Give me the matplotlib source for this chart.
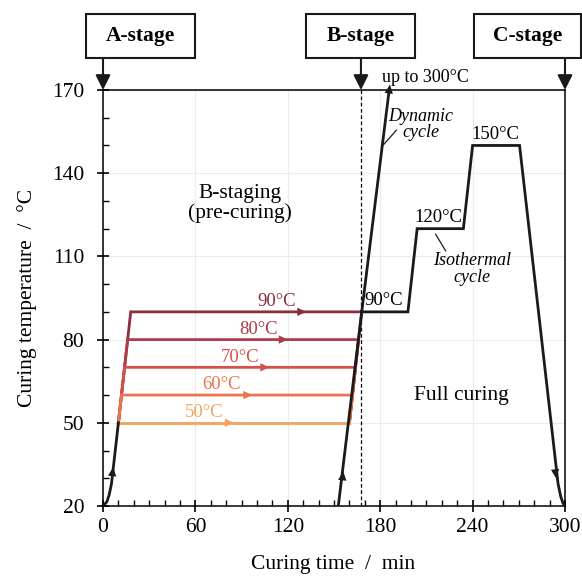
import matplotlib
matplotlib.use("Agg")
import matplotlib.pyplot as plt
import matplotlib.transforms as mtransforms
from matplotlib.patches import Rectangle

plt.rcParams["font.family"] = ["Liberation Serif", "DejaVu Serif"]
plt.rcParams["mathtext.fontset"] = "stix"

# ---- data -------------------------------------------------------------
# B-staging holds (pre-curing)
stage_temps = [90, 80, 70, 60, 50]
stage_labels = ["90°C", "80°C", "70°C", "60°C", "50°C"]
stage_colors = ["#8a2d3d", "#b13b49", "#d4504a", "#e9744f", "#f5a25c"]
heat_reach = [18, 16, 14, 12, 10]        # time at which the ramp reaches the hold (min)
hold_end = [168, 166, 164, 162, 160]     # end of hold on the second ramp (min)
label_t = [113, 101, 89, 77, 66]
arrow_t = [132, 120, 108, 97, 85]

# initial heating ramp 20 -> 50 °C
ramp_a_t = [0, 2.5, 4.0, 5.5, 10]
ramp_a_T = [20, 21.5, 24, 28, 50]

# second heating ramp (start of full curing)
ramp_b_t = [152.8, 168]
ramp_b_T = [20, 90]

# isothermal full-curing cycle
iso_t = [168, 198, 204, 234, 240, 270.5, 295.5, 297.2, 298.7, 300]
iso_T = [90, 90, 120, 120, 150, 150, 28, 23.5, 21, 20]

# dynamic cycle
dyn_t = [168, 185.6]
dyn_T = [90, 169]

b_stage_time = 167.5

xticks = [0, 60, 120, 180, 240, 300]
yticks = [20, 50, 80, 110, 140, 170]

# ---- figure -------------------------------------------------------------
fig = plt.figure(figsize=(5.82, 5.77), dpi=100)
ax = fig.add_axes([103 / 582, 1 - 506 / 577, 462 / 582, 416 / 577])
ax.set_xlim(0, 300)
ax.set_ylim(20, 170)

ax.set_xticks(xticks)
ax.set_yticks(yticks)
ax.set_xticks(range(0, 301, 10), minor=True)
ax.set_yticks(range(20, 171, 10), minor=True)
ax.tick_params(which="major", direction="inout", length=9, width=1.2,
               labelsize=15.5, colors="black")
ax.tick_params(which="minor", direction="in", length=4.5, width=1.0)
ax.tick_params(axis="x", which="major", pad=4)
ax.tick_params(axis="y", which="major", pad=9)
ax.grid(True, which="major", color="#ececec", lw=0.8, zorder=0)
for s in ax.spines.values():
    s.set_linewidth(1.1)
    s.set_color("black")

ax.set_xlabel("Curing time  /  min", fontsize=15.5)
ax.set_ylabel("Curing temperature  /  °C", fontsize=15.5)
ax.xaxis.set_label_coords(0.498, -0.118)
ax.yaxis.set_label_coords(-0.143, 0.5)

LW = 2.0


def head(x0, y0, x1, y1, color):
    ax.annotate("", xy=(x1, y1), xytext=(x0, y0),
                arrowprops=dict(arrowstyle="-|>,head_length=0.65,head_width=0.3",
                                color=color, lw=0, shrinkA=0, shrinkB=0),
                zorder=6, annotation_clip=False)


# B-stage boundary
ax.axvline(b_stage_time, color="black", lw=0.9, ls=(0, (3, 2)), zorder=2)

# B-staging holds, highest first so lower ones overlap the shared ramp
for T, c, tr, te, lt, at, lab in zip(stage_temps, stage_colors, heat_reach,
                                     hold_end, label_t, arrow_t, stage_labels):
    xs = [heat_reach[-1], tr, te, hold_end[-1]]
    ys = [50, T, T, 50]
    ax.plot(xs, ys, color=c, lw=LW, solid_joinstyle="miter", zorder=4)
    head(at - 6, T, at, T, c)
    ax.text(lt, T + 0.6, lab, color=c, fontsize=13.5, ha="center", va="bottom", zorder=5)

# heating ramps and curing cycles
ax.plot(ramp_a_t, ramp_a_T, color="#1a1a1a", lw=LW, zorder=4)
ax.plot(ramp_b_t, ramp_b_T, color="#1a1a1a", lw=LW, zorder=4)
ax.plot(iso_t, iso_T, color="#1a1a1a", lw=LW, solid_joinstyle="miter", zorder=4)
ax.plot(dyn_t, dyn_T, color="#1a1a1a", lw=LW, zorder=4, clip_on=False)

head(5.6, 29.0, 6.6, 34.0, "#1a1a1a")
head(155.0, 27.5, 156.0, 32.5, "#1a1a1a")
head(293.2, 35.0, 294.2, 30.0, "#1a1a1a")
head(184.5, 164.0, 186.3, 172.0, "#1a1a1a")

# annotations
ax.text(182, 91, "90°C", fontsize=13.5, ha="center", va="bottom")
ax.text(217.5, 121, "120°C", fontsize=13.5, ha="center", va="bottom")
ax.text(254.5, 151, "150°C", fontsize=13.5, ha="center", va="bottom")
ax.text(209.5, 174.5, "up to 300°C", fontsize=13, ha="center", va="center")
ax.text(206.5, 157.5, "Dynamic\ncycle", fontsize=13, style="italic",
        ha="center", va="center", linespacing=0.95)
ax.plot([182.2, 190.5], [150.3, 155.5], color="#1a1a1a", lw=0.9, zorder=5)
ax.text(239.6, 105.4, "Isothermal\ncycle", fontsize=13, style="italic",
        ha="center", va="center", linespacing=0.95)
ax.plot([216, 222.5], [118, 112], color="#1a1a1a", lw=0.9, zorder=5)
ax.text(89, 129.2, "B-staging\n(pre-curing)", fontsize=15.5, ha="center",
        va="center", linespacing=1.0)
ax.text(232.5, 59.7, "Full curing", fontsize=15.5, ha="center", va="center")

# stage boxes above the chart
blend = mtransforms.blended_transform_factory(ax.transData, ax.transAxes)
y_bot = (506 - 58) / 416
y_top = (506 - 14) / 416
boxes = [("A-stage", -11.2, 59.9, 0), ("B-stage", 131.8, 202.6, b_stage_time),
         ("C-stage", 240.9, 310.6, 300)]
for name, x0, x1, xa in boxes:
    ax.add_patch(Rectangle((x0, y_bot), x1 - x0, y_top - y_bot, transform=blend,
                           fill=False, ec="#1a1a1a", lw=1.5, clip_on=False))
    ax.text((x0 + x1) / 2, (y_bot + y_top) / 2, name, transform=blend,
            fontsize=15.5, fontweight="bold", ha="center", va="center")
    ax.annotate("", xy=(xa, 1.0), xytext=(xa, y_bot), xycoords=blend, textcoords=blend,
                arrowprops=dict(arrowstyle="-|>,head_length=0.9,head_width=0.45",
                                color="#1a1a1a", lw=1.5, shrinkA=0, shrinkB=0),
                annotation_clip=False)

fig.savefig("out.png", dpi=100)
